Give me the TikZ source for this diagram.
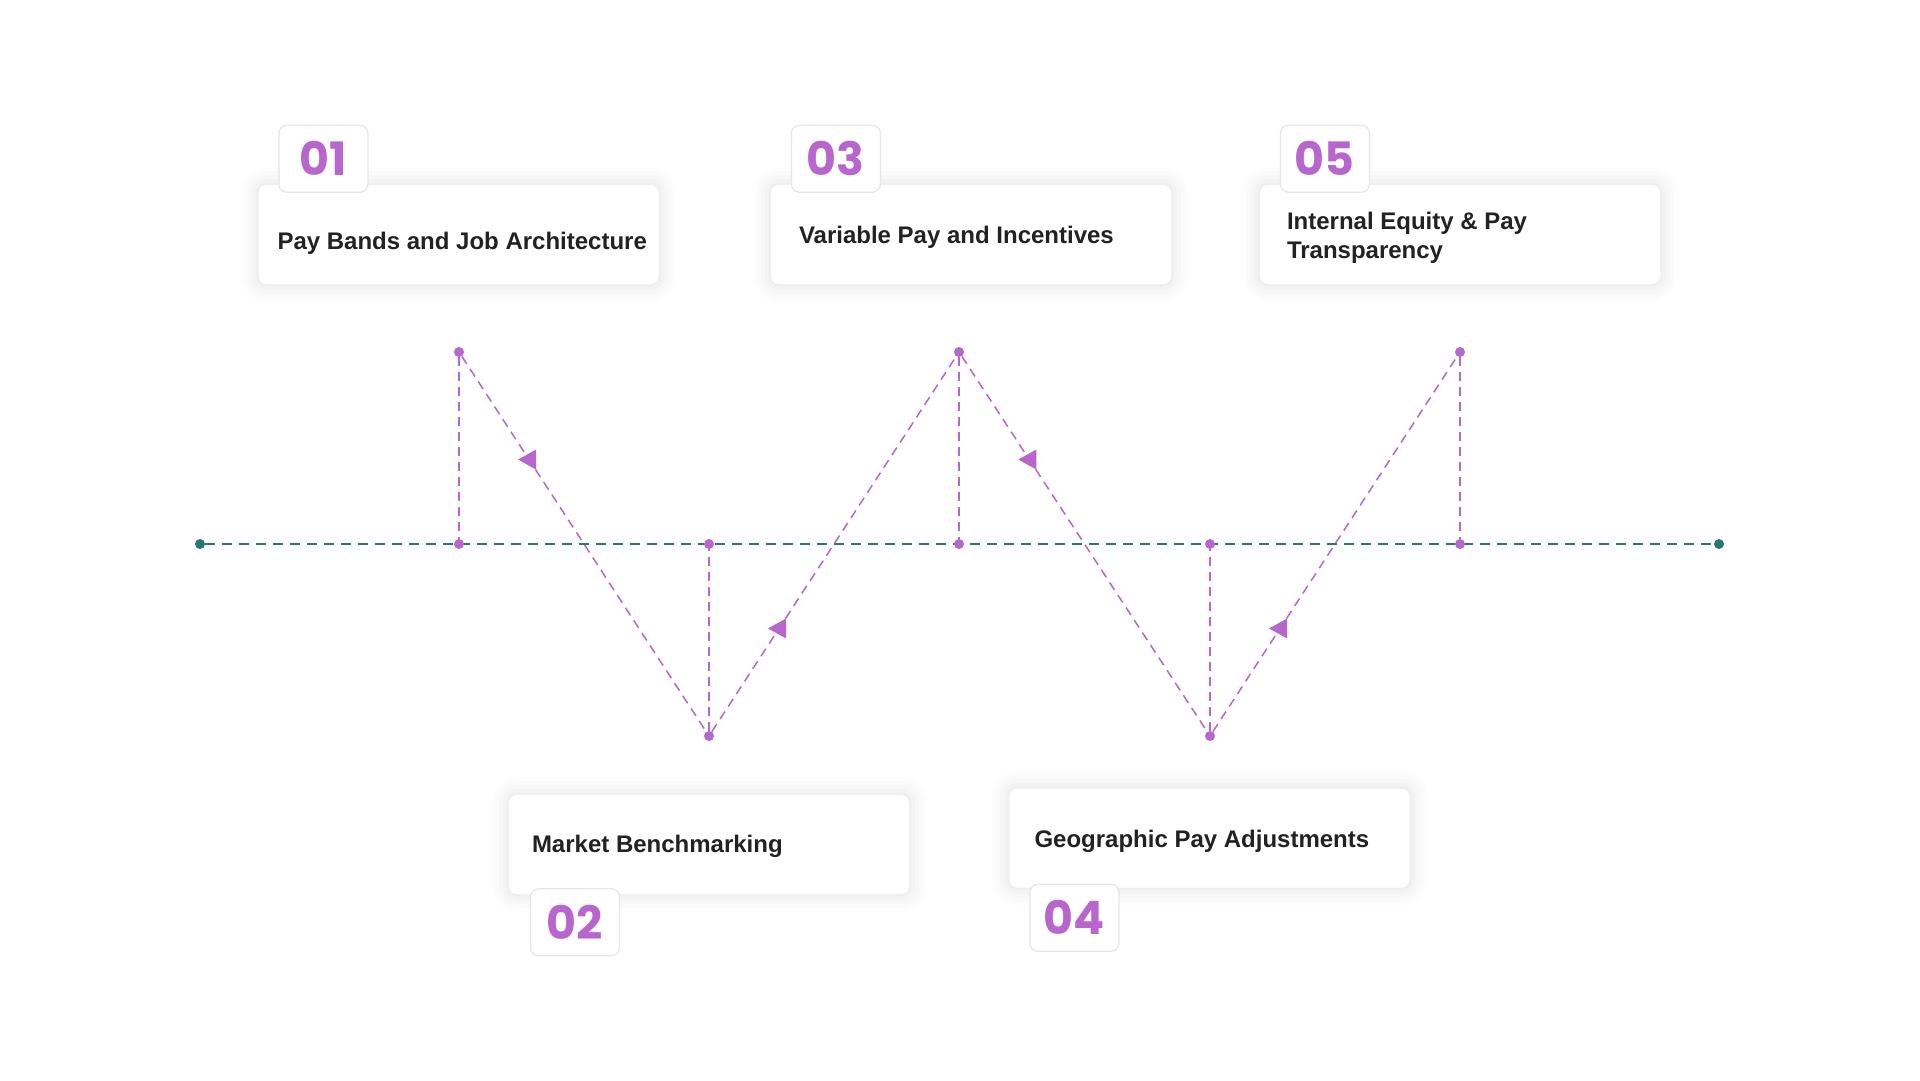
\documentclass[tikz,border=0pt]{standalone}
\usepackage{fontspec}
\setmainfont{Liberation Sans}
\newfontfamily\numfont{Poppins}
\usetikzlibrary{positioning,decorations.markings}
\definecolor{stepviolet}{RGB}{182,102,204}
\definecolor{axisteal}{RGB}{38,120,112}
\definecolor{inkgray}{RGB}{34,34,34}
\definecolor{tagline}{RGB}{230,230,230}

\begin{document}
\begin{tikzpicture}[x=1pt,y=1pt,
    card/.style={rectangle,rounded corners=8pt,fill=white,minimum width=400pt,minimum height=99pt,
      preaction={draw=black,draw opacity=0.008,line width=36pt},
      preaction={draw=black,draw opacity=0.01,line width=28pt},
      preaction={draw=black,draw opacity=0.012,line width=20pt},
      preaction={draw=black,draw opacity=0.014,line width=12pt},
      preaction={draw=black,draw opacity=0.016,line width=5pt}},
    tag/.style={rectangle,rounded corners=8pt,fill=white,draw=tagline,line width=1.2pt,
      minimum width=89pt,minimum height=67pt,inner sep=0pt,
      font=\numfont\bfseries\fontsize{46}{46}\selectfont,text=stepviolet},
    lbl/.style={anchor=west,align=left,inner sep=0pt,font=\bfseries\fontsize{24}{29}\selectfont,text=inkgray},
    dot/.style={circle,fill=stepviolet,inner sep=0pt,minimum size=10pt},
    enddot/.style={circle,fill=axisteal,inner sep=0pt,minimum size=10pt},
    guide/.style={draw=stepviolet,line width=1.5pt,dash pattern=on 9pt off 6pt},
    axis/.style={draw=axisteal,line width=2pt,dash pattern=on 10pt off 7pt},
    flow/.style={guide,postaction={decorate},decoration={markings,mark=at position 0.275 with
      {\pgftransformresetnontranslations\fill[stepviolet] (-11,0) -- (7,10) -- (7,-10) -- cycle;}}}]
  \fill[white] (0,0) rectangle (1920,-1080);

  % baseline
  \node[enddot] (l) at (200,-544) {};
  \node[enddot] (r) at (1719,-544) {};
  \draw[axis] (l) -- (r);

  % zigzag points
  \foreach \n/\x/\y in {1/459/-352,2/709/-736,3/959/-352,4/1210/-736,5/1460/-352} {
    \node[dot] (a\n) at (\x,-544) {};
    \node[dot] (p\n) at (\x,\y) {};
    \draw[guide] (p\n) -- (a\n);
  }
  \foreach \a/\b in {1/2,2/3,3/4,4/5}
    \draw[flow] (p\a) -- (p\b);

  % cards
  \node[card] (c1) at (458.5,-234.5) {};
  \node[card] (c3) at (971,-234.5) {};
  \node[card] (c5) at (1460,-234.5) {};
  \node[card] (c2) at (709,-844.5) {};
  \node[card] (c4) at (1209.5,-838) {};

  \node[lbl] (t1) at ([xshift=19pt,yshift=-9pt]c1.west) {Pay Bands and Job Architecture};
  \node[lbl] (t2) at ([xshift=23pt,yshift=-2pt]c2.west) {Market Benchmarking};
  \node[lbl] (t3) at ([xshift=28pt,yshift=-3pt]c3.west) {Variable Pay and Incentives};
  \node[lbl] (t4) at ([xshift=25pt,yshift=-3pt]c4.west) {Geographic Pay Adjustments};
  \node[lbl] (t5) at ([xshift=27pt,yshift=-3pt]c5.west) {Internal Equity \& Pay\\Transparency};

  % number tags
  \node[tag,anchor=south west] (n1) at ([xshift=20pt,yshift=-8pt]c1.north west) {01};
  \node[tag,anchor=south west] (n3) at ([xshift=20pt,yshift=-8pt]c3.north west) {03};
  \node[tag,anchor=south west] (n5) at ([xshift=20pt,yshift=-8pt]c5.north west) {05};
  \node[tag,anchor=north west] (n2) at ([xshift=21pt,yshift=6pt]c2.south west) {02};
  \node[tag,anchor=north west] (n4) at ([xshift=20pt,yshift=4pt]c4.south west) {04};
\end{tikzpicture}
\end{document}
